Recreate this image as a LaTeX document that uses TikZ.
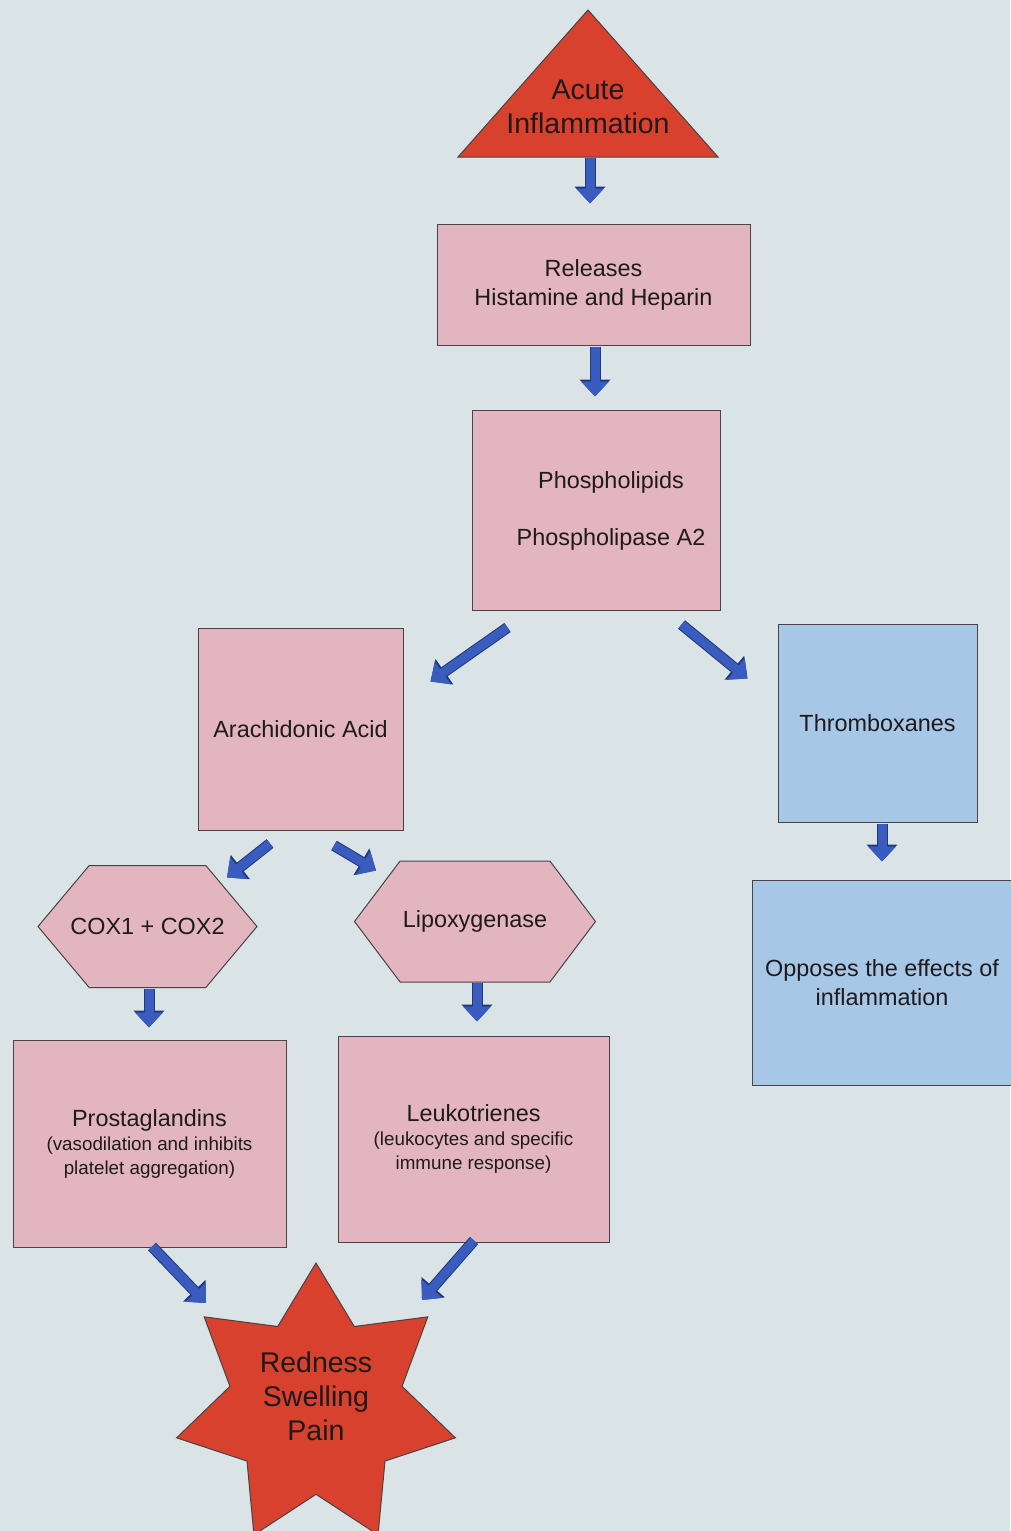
\documentclass[tikz,border=0pt]{standalone}
\usepackage{fontspec}
\setmainfont{Liberation Sans}
\usetikzlibrary{shapes.geometric,shapes.symbols,arrows.meta,calc}
\definecolor{bgc}{HTML}{DAE3E6}
\definecolor{pinkc}{HTML}{E2B5C1}
\definecolor{bluec}{HTML}{A7C7E6}
\definecolor{redc}{HTML}{D8412D}
\definecolor{arrowc}{HTML}{3A5CBE}
\definecolor{arrowdk}{HTML}{1F3A7A}
\definecolor{edgec}{HTML}{4A4244}
\definecolor{txtc}{HTML}{1E1A1C}
\newcommand\smalltxt{\fontsize{18.8}{24}\selectfont}
\begin{document}
\begin{tikzpicture}[x=1pt,y=-1pt,
  medtext/.style={font=\fontsize{23.4}{29}\selectfont, text=txtc, align=center},
  bigtext/.style={font=\fontsize{28.5}{34}\selectfont, text=txtc, align=center},
  pinkbox/.style={rectangle, draw=edgec, line width=1pt, fill=pinkc, inner sep=0pt, medtext},
  bluebox/.style={rectangle, draw=edgec, line width=1pt, fill=bluec, inner sep=0pt, medtext},
  hexbox/.style={signal, signal to=west and east, draw=edgec, line width=1pt, fill=pinkc, inner sep=0pt, medtext},
  barrow/.style={line width=9pt, draw=arrowc, -{Triangle[width=27pt,length=15pt]},
    preaction={draw=arrowdk, line width=11pt, -{Triangle[width=30pt,length=17pt]}}}
]
\useasboundingbox (0,0) rectangle (1010,1531);
\fill[bgc] (0,0) rectangle (1010,1531);

% triangle
\filldraw[fill=redc, draw=edgec, line width=1pt] (458,157) -- (588,10) -- (718,157) -- cycle;
\node[bigtext] (acute) at (588,107) {Acute\\Inflammation};
\coordinate (acutebase) at (590,158);

% boxes
\node[pinkbox, minimum width=313, minimum height=121] (rel) at (593.5,284.5) {Releases\\Histamine and Heparin};
\node[pinkbox, minimum width=248, minimum height=200,
  label={[medtext, shift={(15,0.5)}]center:{Phospholipids\\[28pt]Phospholipase A2}}] (phos) at (596,510) {};
\node[pinkbox, minimum width=205, minimum height=202] (arach) at (300.5,729) {Arachidonic Acid};
\node[bluebox, minimum width=199, minimum height=198] (thromb) at (877.5,723) {Thromboxanes};
\node[bluebox, minimum width=260, minimum height=205] (opp) at (882,982.5) {Opposes the effects of\\inflammation};
\node[hexbox, minimum width=219, minimum height=122, signal pointer angle=100,
  label={[medtext]center:COX1 + COX2}] (cox) at (147.5,926.5) {};
\node[hexbox, minimum width=241, minimum height=121, signal pointer angle=106,
  label={[medtext]center:Lipoxygenase}] (lipo) at (475,921.5) {};
\node[pinkbox, minimum width=273, minimum height=207] (prosta) at (149.5,1143.5)
  {Prostaglandins\\[-5pt]\smalltxt(vasodilation and inhibits\\[-5pt]\smalltxt platelet aggregation)};
\node[pinkbox, minimum width=271, minimum height=206] (leuko) at (473.5,1139)
  {Leukotrienes\\[-5pt]\smalltxt(leukocytes and specific\\[-5pt]\smalltxt immune response)};

% star
\node[star, star points=7, star point ratio=1.62, minimum size=286, inner sep=0pt,
  fill=redc, draw=edgec, line width=1pt] (star) at (316,1406) {};
\node[bigtext] (startext) at (316,1396) {Redness\\Swelling\\Pain};

% arrows
\draw[barrow] (acutebase) -- ([shift={(-3.5,-20)}]rel.north);
\draw[barrow] ([shift={(1.5,1)}]rel.south) -- ([shift={(-1,-13)}]phos.north);
\draw[barrow] ([shift={(36,17)}]phos.south west) -- ([shift={(27,54)}]arach.north east);
\draw[barrow] ([shift={(-39,14)}]phos.south east) -- ([shift={(-30,55)}]thromb.north west);
\draw[barrow] ([shift={(4.5,1)}]thromb.south) -- ([shift={(0,-18)}]opp.north);
\draw[barrow] ([shift={(-30.5,13)}]arach.south) -- ([shift={(79.5,12.5)}]cox.north);
\draw[barrow] ([shift={(33.5,15)}]arach.south) -- ([shift={(-99,10)}]lipo.north);
\draw[barrow] ([shift={(1.5,0.5)}]cox.south) -- ([shift={(-0.5,-12)}]prosta.north);
\draw[barrow] ([shift={(2,0)}]lipo.south) -- ([shift={(3.5,-14)}]leuko.north);
\draw[barrow] ([shift={(2.5,-1)}]prosta.south) -- ([shift={(-110,-103)}]star.center);
\draw[barrow] ([shift={(0.5,-2)}]leuko.south) -- ([shift={(106,-106)}]star.center);
\end{tikzpicture}
\end{document}
